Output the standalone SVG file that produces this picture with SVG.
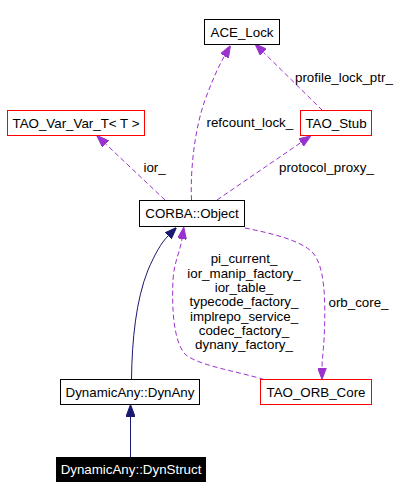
<svg xmlns="http://www.w3.org/2000/svg" width="419" height="499" viewBox="0 0 419 499">
<style>
text{font-family:"Liberation Sans",Arial,sans-serif;font-size:13.33px;fill:#000}
.c{text-anchor:middle}
.box{fill:#fff;stroke:#000;stroke-width:1}
.rbox{fill:#fff;stroke:#ff0000;stroke-width:1}
.use{fill:none;stroke:#9a32cd;stroke-width:1;stroke-dasharray:5,3}
.inh{fill:none;stroke:#191970;stroke-width:1}
</style>
<defs>
<marker id="ap" markerUnits="userSpaceOnUse" markerWidth="12" markerHeight="9" refX="0" refY="4.5" orient="auto"><path d="M0,0 L12,4.5 L0,9 z" fill="#9a32cd" stroke="#9a32cd"/></marker>
<marker id="an" markerUnits="userSpaceOnUse" markerWidth="12" markerHeight="9" refX="0" refY="4.5" orient="auto"><path d="M0,0 L12,4.5 L0,9 z" fill="#191970" stroke="#191970"/></marker>
</defs>
<rect width="419" height="499" fill="#fff"/>
<g id="connectors">
<path class="use" marker-end="url(#ap)" d="M191.5,200 C190,165 196,125 205,100 C211,84 217,69 224.5,56"/>
<text x="206.5" y="126.5">refcount_lock_</text>
<path class="use" marker-end="url(#ap)" d="M322.5,110.5 L263.5,52.3"/>
<text x="295" y="81.5">profile_lock_ptr_</text>
<path class="use" marker-end="url(#ap)" d="M165,200 L105.5,143.8"/>
<text x="143.5" y="171.5">ior_</text>
<path class="use" marker-end="url(#ap)" d="M217,200 L301,142.5"/>
<text x="279" y="171.5">protocol_proxy_</text>
<path class="use" marker-end="url(#ap)" d="M245,228 C270,233 300,240 312,252 C325,265 326,300 324,340 C323,355 322,361 322,367.5"/>
<text x="328.5" y="306.5">orb_core_</text>
<path class="use" marker-end="url(#ap)" d="M264,379.5 C240,372 200,366 186,355 C172,342 172,300 173,280 C174,262 180,252 182,239"/>
<text class="c" x="244" y="263.3">pi_current_</text>
<text class="c" x="244" y="277.7">ior_manip_factory_</text>
<text class="c" x="244" y="291.9">ior_table_</text>
<text class="c" x="244" y="306.2">typecode_factory_</text>
<text class="c" x="244" y="320.6">implrepo_service_</text>
<text class="c" x="244" y="334.8">codec_factory_</text>
<text class="c" x="244" y="349.2">dynany_factory_</text>
<path class="inh" marker-end="url(#an)" d="M131.5,379 C132,340 136,300 148,270 C155,254 161,243 168,236"/>
<path class="inh" marker-end="url(#an)" d="M130.5,457 L130.5,416.5"/>
</g>
<g id="ace_lock"><rect class="box" x="204.5" y="19.5" width="75" height="25"/><text class="c" x="242" y="37">ACE_Lock</text></g>
<g id="tao_var_var_t"><rect class="rbox" x="7.5" y="110.5" width="137" height="25"/><text class="c" x="76" y="127.5">TAO_Var_Var_T&lt; T &gt;</text></g>
<g id="tao_stub"><rect class="rbox" x="300.5" y="110.5" width="71" height="25"/><text class="c" x="336" y="127.5">TAO_Stub</text></g>
<g id="corba_object"><rect class="box" x="139.5" y="200.5" width="105" height="26"/><text class="c" x="192" y="218">CORBA::Object</text></g>
<g id="dynany"><rect class="box" x="60.5" y="379.5" width="139" height="25"/><text class="c" x="130" y="396.5">DynamicAny::DynAny</text></g>
<g id="tao_orb_core"><rect class="rbox" x="260.5" y="379.5" width="111" height="25"/><text class="c" x="316" y="396.5">TAO_ORB_Core</text></g>
<g id="dynstruct"><rect x="56" y="457" width="150" height="25" fill="#000"/><text class="c" x="131" y="474" style="fill:#fff">DynamicAny::DynStruct</text></g>
</svg>
